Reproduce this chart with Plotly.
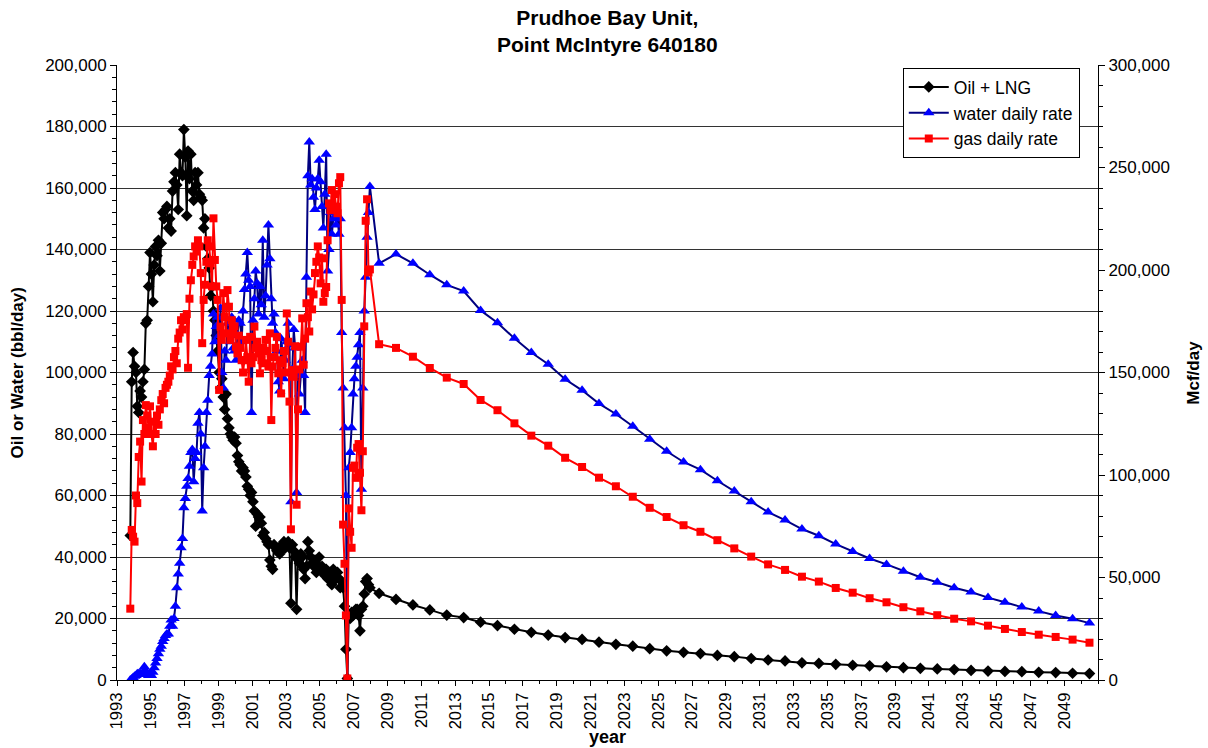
import pandas as pd
import plotly.graph_objects as go

# ---- Production history, monthly from Oct 1993 through Dec 2007 ----
# Oil + LNG, bbl/day
oil_hist = [
    47000, 97000, 106500,                                                                    # 1993 (Oct-Dec)
    102000, 100000, 89000, 87000, 94000, 92000, 97000, 101000, 116000, 117000, 128000, 139000,  # 1994
    132000, 123000, 135000, 141000, 138000, 143000, 133000, 142000, 152000, 150000, 153000, 154000,  # 1995
    147000, 150000, 146000, 159000, 162000, 165000, 161000, 153000, 171000, 165000, 164000, 179000,  # 1996
    170000, 151000, 172000, 163000, 171000, 159000, 156000, 165000, 161000, 165000, 158000, 157000,  # 1997
    156000, 147000, 150000, 141000, 137000, 134000, 125000, 128000, 120000, 117000, 112000, 107000,  # 1998
    100000, 95000, 98000, 92000, 88000, 93000, 85000, 82000, 80000, 79000, 78000, 79000,          # 1999
    77000, 73000, 71000, 70000, 68000, 69000, 68000, 66000, 63000, 62000, 60000, 61000,           # 2000
    58000, 55000, 50000, 54000, 53000, 53000, 51000, 47000, 48000, 46000, 45000, 44000,           # 2001
    39000, 37000, 36000, 44000, 43000, 42000, 43000, 41000, 42000, 44000, 45000, 43000,           # 2002
    44000, 45000, 43000, 25000, 44000, 42000, 40000, 23000, 40000, 38000, 41000, 40000,           # 2003
    36000, 33000, 37000, 45000, 42000, 40000, 38000, 37000, 39000, 35000, 37000, 40000,           # 2004
    36000, 37000, 35000, 34000, 36000, 33000, 35000, 34000, 31000, 36000, 34000, 33000,           # 2005
    35000, 33000, 30000, 32000, 30000, 24000, 10000, 500, 21000, 20000, 22000, 21000,             # 2006
    22000, 23000, 23000, 21000, 16000, 23000, 24000, 28000, 32000, 33000, 31000, 30000,           # 2007
]

# Water, bbl/day
water_hist = [
    0, 300, 800,
    1200, 1500, 2000, 2000, 2200, 1800, 2500, 4300, 3000, 2000, 1500, 2000,
    1500, 2500, 4000, 5500, 7000, 8500, 10000, 11000, 12500, 13500, 14500, 15000,
    15000, 17500, 19500, 17500, 20000, 24000, 30000, 34500, 38000, 43000, 46000, 56000,
    59000, 63000, 65500, 69500, 74000, 75000, 64500, 72000, 74000, 83500, 87000, 80000,
    55000, 69000, 76000, 87000, 91000, 99000, 102000, 106000, 119000, 110000, 115000, 118000,
    112000, 121000, 100000, 95000, 107000, 104000, 116000, 113000, 110000, 118000, 108000, 107000,
    104000, 112000, 117000, 116000, 110000, 120000, 127000, 132000, 139000, 130000, 128000, 87000,
    117000, 124000, 133000, 129000, 119000, 128000, 122000, 143000, 118000, 125000, 135000, 148000,
    137000, 124000, 116000, 119000, 113000, 107000, 97000, 94000, 111000, 107000, 98000, 104000,
    110000, 116000, 109000, 58000, 101000, 114000, 108000, 61000, 100000, 93000, 99000, 104000,
    99000, 87000, 131000, 164000, 175000, 161000, 163000, 157000, 153000, 160000, 163000, 169000,
    162000, 154000, 147000, 158000, 171000, 133000, 140000, 152000, 145000, 150000, 153000, 148000,
    151000, 145000, 150000, 113000, 95000, 82000, 60000, 0, 69000, 74000, 82000, 93000,
    98000, 102000, 105000, 109000, 113000, 62000, 95000, 120000, 131000, 144000, 152000, 160500,
]

# Gas, Mcf/day
gas_hist = [
    34800, 73200, 69900,
    67500, 90000, 86300, 108800, 116300, 96800, 126800, 120000, 134100, 129000, 123000, 133500,
    120000, 114000, 126000, 120000, 129000, 124500, 132000, 136500, 139500, 135000, 142500, 144000,
    145500, 148500, 153000, 151500, 157500, 160500, 154500, 166500, 169500, 175500, 171000, 177000,
    175500, 178500, 152300, 186000, 195000, 202500, 206600, 211500, 209000, 214500, 211500, 198500,
    164300, 185400, 192800, 204000, 214500, 211500, 203300, 192000, 225200, 204900, 192000, 185400,
    141500, 172400, 165900, 188700, 177000, 169100, 190200, 182100, 165900, 175500, 169100, 172500,
    162600, 159300, 168000, 162000, 156000, 150000, 156000, 165900, 157500, 145500, 167400, 154500,
    157500, 172400, 162000, 165000, 159300, 149600, 156000, 162000, 154500, 165900, 160500, 152900,
    169100, 126800, 152900, 157500, 162000, 167400, 149600, 156000, 139800, 154500, 160500, 150000,
    178800, 165000, 135800, 73500, 151200, 147900, 162800, 85500, 132000, 151500, 162600, 176400,
    153800, 166500, 183800, 177000, 170000, 189500, 180800, 188100, 198500, 204000, 211500, 206100,
    193500, 205700, 184500, 188700, 191700, 214500, 232500, 229200, 239000, 230100, 237000, 230900,
    227700, 242300, 245300, 185400, 75800, 56700, 31500, 750, 83700, 72300, 64500, 103500,
    104600, 98600, 113300, 115100, 101100, 82800, 111600, 172500, 224000, 234500, 198800, 200300,
]

# ---- Annual forecast, 2008 through 2050 ----
forecast_years = list(range(2008, 2051))
oil_fcst = [
    28200, 26200, 24400, 22800, 21100, 20300, 18800, 17700, 16500, 15500, 14600,
    13800, 13200, 12300, 11600, 11000, 10200, 9500, 9000, 8600, 8000, 7600,
    7000, 6500, 6200, 5600, 5400, 5100, 4800, 4600, 4300, 4000, 3800,
    3600, 3400, 3100, 2900, 2800, 2700, 2500, 2400, 2200, 2100,
]
water_fcst = [
    135500, 138500, 135500, 131800, 128500, 126500, 120200, 116200, 111100, 106500, 102700,
    97800, 94200, 89900, 86500, 82500, 78300, 74400, 70900, 68400, 64800, 61500,
    58000, 54600, 52000, 49100, 46900, 44200, 41800, 39500, 37600, 35400, 33400,
    31800, 30000, 28600, 26800, 25300, 23700, 22400, 21000, 19900, 18500,
]
gas_fcst = [
    163800, 162000, 157700, 152200, 147500, 144400, 136600, 131600, 125200, 119200, 114300,
    108400, 103900, 98700, 94500, 89400, 84000, 79500, 75500, 72300, 68200, 64200,
    60200, 56400, 53700, 50400, 48000, 44900, 42600, 39900, 37900, 35500, 33500,
    31600, 29900, 28600, 26500, 24900, 23400, 22100, 21000, 19700, 18200,
]

# Year tick labels along the bottom axis (every other year)
year_labels = [str(y) for y in range(1993, 2050, 2)]

# Monthly history sits mid-month, forecast years sit mid-year
hist_dates = pd.date_range("1993-10-01", "2007-12-01", freq="MS") + pd.Timedelta(days=14)
fcst_dates = pd.to_datetime([f"{y}-07-01" for y in forecast_years])
dates = list(hist_dates) + list(fcst_dates)

oil = oil_hist + oil_fcst
water = water_hist + water_fcst
gas = gas_hist + gas_fcst

FONT = "Liberation Sans, Arial, sans-serif"
TICK_FONT = dict(family=FONT, size=17, color="black")

fig = go.Figure()
fig.add_trace(go.Scatter(
    x=dates, y=oil, name="Oil + LNG", mode="lines+markers",
    line=dict(color="black", width=2),
    marker=dict(symbol="diamond", size=9, color="black"),
))
fig.add_trace(go.Scatter(
    x=dates, y=water, name="water daily rate", mode="lines+markers",
    line=dict(color="#000080", width=2),
    marker=dict(symbol="triangle-up", size=10, color="#0000FF"),
))
fig.add_trace(go.Scatter(
    x=dates, y=gas, name="gas daily rate", mode="lines+markers", yaxis="y2",
    line=dict(color="#FF0000", width=2),
    marker=dict(symbol="square", size=8, color="#FF0000"),
))

fig.update_layout(
    width=1208, height=748,
    margin=dict(l=117, r=110, t=65, b=68),
    paper_bgcolor="white", plot_bgcolor="white",
    font=dict(family=FONT, size=17, color="black"),
    showlegend=True,
    legend=dict(
        x=0.801, y=0.995, xanchor="left", yanchor="top",
        bgcolor="white", bordercolor="black", borderwidth=1,
        font=dict(family=FONT, size=17.5, color="black"),
        itemwidth=40,
    ),
    xaxis=dict(
        type="date",
        range=["1993-01-01", "2051-01-01"],
        tickmode="array",
        tickvals=[f"{y}-01-01" for y in year_labels],
        ticktext=year_labels,
        tickangle=-90,
        ticks="outside", ticklen=5, tickcolor="black",
        minor=dict(dtick="M12", tick0="1993-01-01", ticks="outside", ticklen=3,
                   tickcolor="black", showgrid=False),
        showline=True, linecolor="black", linewidth=1,
        showgrid=False, zeroline=False,
        tickfont=dict(family=FONT, size=16.5, color="black"),
    ),
    yaxis=dict(
        range=[0, 200000], dtick=20000, tickformat=",d",
        ticks="outside", ticklen=6, tickcolor="black",
        minor=dict(dtick=4000, ticks="outside", ticklen=4, tickcolor="black", showgrid=False),
        showline=True, linecolor="black", linewidth=1,
        showgrid=True, gridcolor="#333333", gridwidth=1, zeroline=False,
        tickfont=TICK_FONT,
    ),
    yaxis2=dict(
        overlaying="y", side="right",
        range=[0, 300000], dtick=50000, tickformat=",d",
        ticks="outside", ticklen=6, tickcolor="black",
        minor=dict(dtick=10000, ticks="outside", ticklen=4, tickcolor="black", showgrid=False),
        showline=True, linecolor="black", linewidth=1,
        showgrid=False, zeroline=False,
        tickfont=TICK_FONT,
    ),
    annotations=[
        dict(text="<b>Prudhoe Bay Unit,<br>Point McIntyre 640180</b>",
             xref="paper", yref="paper", x=0.5, y=1.0545,
             xanchor="center", yanchor="middle", showarrow=False,
             font=dict(family=FONT, size=21, color="black")),
        dict(text="<b>Oil or Water (bbl/day)</b>", textangle=-90,
             xref="paper", yref="paper", x=-0.101, y=0.5,
             xanchor="center", yanchor="middle", showarrow=False,
             font=dict(family=FONT, size=17, color="black")),
        dict(text="<b>Mcf/day</b>", textangle=-90,
             xref="paper", yref="paper", x=1.097, y=0.5,
             xanchor="center", yanchor="middle", showarrow=False,
             font=dict(family=FONT, size=17, color="black")),
        dict(text="<b>year</b>",
             xref="paper", yref="paper", x=0.5, y=-0.1115,
             xanchor="center", yanchor="bottom", showarrow=False,
             font=dict(family=FONT, size=18, color="black")),
    ],
)

fig.write_html("out.html")
